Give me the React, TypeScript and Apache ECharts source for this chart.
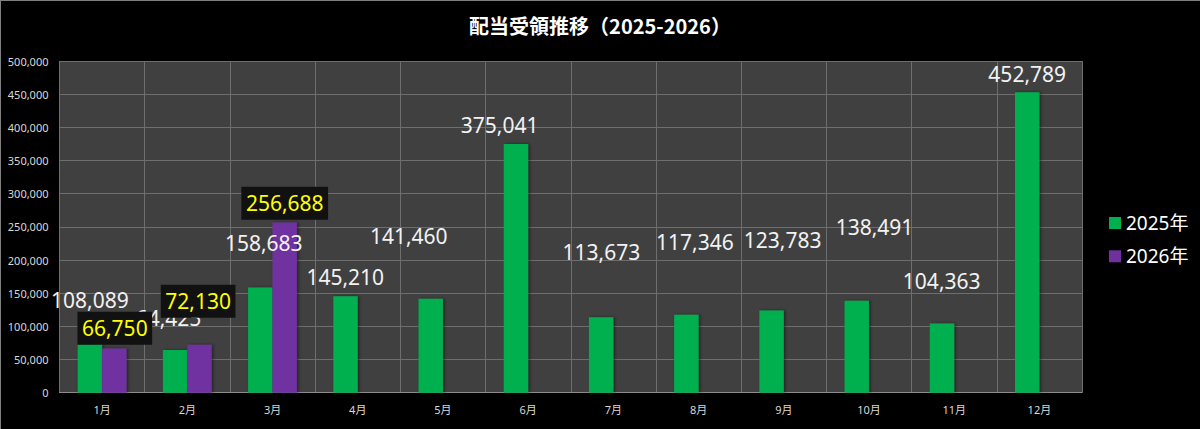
import React, { useEffect, useRef } from "react";
import * as echarts from "echarts";

const months = ["1月", "2月", "3月", "4月", "5月", "6月", "7月", "8月", "9月", "10月", "11月", "12月"];
// bar heights as drawn
const values2025 = [73000, 64425, 158683, 145210, 141460, 375041, 113673, 117346, 123783, 138491, 104363, 452789];
// numbers printed in the data labels
const labels2025 = [108089, 64425, 158683, 145210, 141460, 375041, 113673, 117346, 123783, 138491, 104363, 452789];
const values2026 = [66750, 72130, 256688, null, null, null, null, null, null, null, null, null];
const labels2026 = [66750, 72130, 256688];
const seriesNames = ["2025年", "2026年"];
const titleText = "配当受領推移（2025-2026）";
const yMin = 0;
const yMax = 500000;
const yStep = 50000;

// label nudges (px, relative to bar top / bar centre)
const nudge2025 = [
  [0, -44], [-6.6, -32], [3.4, -44.4], [-0.3, -19.7], [-22, -62.6], [-16.3, -18.9],
  [0.2, -64.8], [8.5, -73.2], [11, -70.8], [17.7, -74.3], [-0.3, -42.7], [0, -18.6],
];
const nudge2026 = [[0.5, -20.1], [-1.4, -43.5], [0, -19.1]];

const fmt = (n: number) => n.toLocaleString("en-US");
const FONT = "'Noto Sans', 'Noto Sans CJK JP', sans-serif";
const LABEL_SIZE = 21;
const GREEN_LINE_H = 21;
const PURPLE_LINE_H = 27;

export default function App() {
  const ref = useRef<HTMLDivElement>(null);
  useEffect(() => {
    document.body.style.margin = "0";
    document.body.style.background = "#000";
    const chart = echarts.init(ref.current!, null, { renderer: "svg" });
    const greenHalf = GREEN_LINE_H / 2;
    const purpleHalf = (PURPLE_LINE_H + 6) / 2;
    chart.setOption({
      animation: false,
      backgroundColor: "#000000",
      title: {
        text: titleText,
        left: "center",
        top: 10,
        textStyle: {
          color: "#ffffff",
          fontSize: 20,
          fontWeight: "bold",
          fontFamily: "'Noto Sans CJK JP', sans-serif",
        },
      },
      legend: {
        orient: "vertical",
        left: 1104,
        top: 208,
        itemWidth: 12,
        itemHeight: 12,
        itemGap: 13.3,
        icon: "rect",
        textStyle: { color: "#ffffff", fontSize: 19, fontFamily: FONT, lineHeight: 20 },
        data: seriesNames,
      },
      grid: {
        left: 59.5,
        right: 118,
        top: 61,
        bottom: 36.3,
        show: true,
        backgroundColor: "#404040",
        borderWidth: 0,
      },
      xAxis: {
        type: "category",
        data: months,
        axisTick: { show: false },
        axisLine: { lineStyle: { color: "#8c8c8c", width: 1 } },
        splitLine: { show: true, interval: 0, lineStyle: { color: "#6e6e6e", width: 1 } },
        axisLabel: { color: "#d9d9d9", fontSize: 11, fontFamily: FONT, margin: 11, interval: 0 },
      },
      yAxis: {
        type: "value",
        min: yMin,
        max: yMax,
        interval: yStep,
        axisLine: { show: false },
        axisTick: { show: false },
        splitLine: { lineStyle: { color: "#6e6e6e", width: 1 } },
        axisLabel: { color: "#d9d9d9", fontSize: 11, fontFamily: FONT, margin: 11, formatter: (v: number) => fmt(v) },
      },
      graphic: [
        { type: "line", shape: { x1: 0, y1: 0.5, x2: 1200, y2: 0.5 }, style: { stroke: "#7f7f7f", lineWidth: 1 } },
        { type: "line", shape: { x1: 0.5, y1: 0, x2: 0.5, y2: 429 }, style: { stroke: "#7f7f7f", lineWidth: 1 } },
      ],
      series: [
        {
          name: seriesNames[0],
          type: "bar",
          barWidth: 24.4,
          barGap: "0%",
          itemStyle: { color: "#00B050", shadowColor: "rgba(0,0,0,0.45)", shadowBlur: 3, shadowOffsetX: 1.5, shadowOffsetY: 0 },
          data: values2025.map((v, i) => ({
            value: v,
            label: { offset: [nudge2025[i][0], nudge2025[i][1] + greenHalf] },
          })),
          label: {
            show: true,
            position: "top",
            distance: 0,
            color: "#f2f2f2",
            fontSize: LABEL_SIZE,
            lineHeight: GREEN_LINE_H,
            fontFamily: FONT,
            formatter: (p: any) => fmt(labels2025[p.dataIndex]),
          },
        },
        {
          name: seriesNames[1],
          type: "bar",
          barWidth: 24.4,
          barGap: "0%",
          itemStyle: { color: "#7030A0", shadowColor: "rgba(0,0,0,0.45)", shadowBlur: 3, shadowOffsetX: 1.5, shadowOffsetY: 0 },
          data: values2026.map((v, i) =>
            v == null
              ? null
              : {
                  value: v,
                  label: { offset: [nudge2026[i][0], nudge2026[i][1] + purpleHalf] },
                }
          ),
          label: {
            show: true,
            position: "top",
            distance: 0,
            color: "#ffff00",
            fontSize: LABEL_SIZE,
            lineHeight: PURPLE_LINE_H,
            fontFamily: FONT,
            backgroundColor: "#111111",
            padding: [3, 4.5],
            formatter: (p: any) => fmt(labels2026[p.dataIndex]),
          },
        },
      ],
    });
    return () => chart.dispose();
  }, []);
  return (
    <div
      ref={ref}
      style={{ position: "fixed", left: 0, top: 0, width: 1200, height: 429, background: "#000" }}
    />
  );
}
